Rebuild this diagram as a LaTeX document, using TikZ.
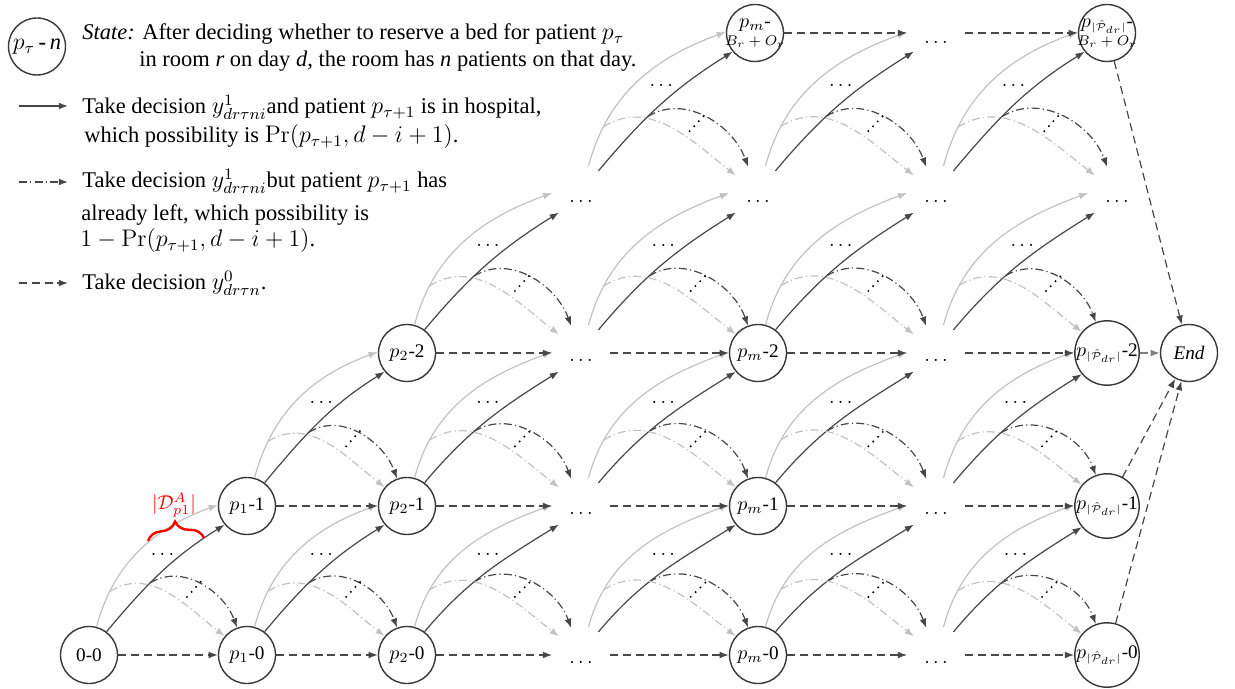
\documentclass[tikz,border=0pt]{standalone}
\usepackage[no-math]{fontspec}
\setmainfont{Liberation Serif}[Scale=0.96]
\usetikzlibrary{arrows.meta,calc,shapes.geometric,decorations.pathreplacing}
\definecolor{dk}{gray}{0.28}
\definecolor{lt}{gray}{0.76}
\definecolor{nodeb}{gray}{0.22}
\definecolor{midg}{gray}{0.5}
\tikzset{
  arrowtip/.style={-{Latex[length=4.6pt,width=3.4pt]}},
  darkarc/.style={draw=dk, line width=0.6pt, arrowtip},
  lightarc/.style={draw=lt, line width=0.6pt, arrowtip},
  dashdotpat/.style={dash pattern=on 4pt off 1.6pt on 0.6pt off 1.6pt},
  hdash/.style={draw=dk, line width=0.6pt, arrowtip, dash pattern=on 4pt off 2.4pt},
  dotline/.style={draw=black, line width=1.1pt, line cap=round, dash pattern=on 0pt off 3.4pt},
  st/.style={circle, draw=nodeb, line width=0.7pt, minimum size=28.5pt, inner sep=0pt},
  stbig/.style={st, inner sep=-3pt, align=center},
  ph/.style={circle, minimum size=28.5pt, inner sep=0pt},
  dotstext/.style={inner sep=0pt},
  legfont/.style={font=\fontsize{11.7}{14}\selectfont},
  legtext/.style={legfont, anchor=base west, inner sep=0pt},
}
\newcommand{\mytrans}[3]{%
  \draw[lightarc] (#1.75) to[out=75,in=200] node[coordinate,pos=0.2] (#1-g) {} (#2.178);
  \draw[darkarc] (#1.53) to[out=50,in=212] node[coordinate,pos=0.4] (#1-d) {} (#2.220);
  \draw[darkarc,dashdotpat] (#1-d) to[out=32,in=110] (#3.110);
  \draw[lightarc,dashdotpat] (#1-g) to[out=32,in=142] (#3.140);
  \coordinate (#1-l) at ($(#1)!0.62!(#3)+(#3)!0.39!(#2)-(#3)$);
  \coordinate (#1-u) at ($(#1)!0.715!(#3)+(#3)!0.5!(#2)-(#3)$);
  \draw[dotline] (#1-l) -- (#1-u);
  \node[dotstext] (#1-t) at ($(#1)!0.465!(#3)+(#3)!0.675!(#2)-(#3)$) {$\ldots$};
}
\newcommand{\phdots}[1]{\node[dotstext] (#1-t) at ($(#1)+(0,7.5)$) {$\ldots$};}
\newcommand{\Pset}{p_{\scriptscriptstyle|\hat{\mathcal{P}}_{dr}|}}
\begin{document}
\begin{tikzpicture}[x=0.5pt,y=-0.5pt]
\useasboundingbox (0,0) rectangle (1235,689);
% ---------- legend ----------
\node[st, legfont] (leg) at (37,46.5) {$p_\tau$\,\textbf{-}\,\textit{n}};
\node[legtext] (t1) at (82,40) {\textit{State:} After deciding whether to reserve a bed for patient $p_\tau$};
\node[legtext] (t2) at (139,67) {in room \textit{r} on day \textit{d}, the room has \textit{n} patients on that day.};
\coordinate (a1s) at (19,106); \coordinate (a1e) at (68,106);
\draw[darkarc] (a1s) -- (a1e);
\node[legtext] (t3) at (82,114) {Take decision $y^1_{dr\tau ni}$and patient $p_{\tau+1}$ is in hospital,};
\node[legtext] (t4) at (84,143) {which possibility is $\Pr(p_{\tau+1},d-i+1)$.};
\coordinate (a2s) at (19,182); \coordinate (a2e) at (68,182);
\draw[darkarc,dashdotpat] (a2s) -- (a2e);
\node[legtext] (t5) at (82,188) {Take decision $y^1_{dr\tau ni}$but patient $p_{\tau+1}$ has};
\node[legtext] (t6) at (81,221) {already left, which possibility is};
\node[legtext] (t7) at (80,247) {$1-\Pr(p_{\tau+1},d-i+1)$.};
\coordinate (a3s) at (19,283); \coordinate (a3e) at (68,283);
\draw[hdash] (a3s) -- (a3e);
\node[legtext] (t8) at (82,290) {Take decision $y^0_{dr\tau n}$.};
% ---------- nodes ----------
\node[st] (n00) at (89,655) {0-0};
\node[st] (p10) at (247,655) {$p_1$-0};
\node[st] (p11) at (247,506) {$p_1$-1};
\node[st] (p20) at (407,655) {$p_2$-0};
\node[st] (p21) at (407,506) {$p_2$-1};
\node[st] (p22) at (407,353) {$p_2$-2};
\node[ph] (d30) at (581,655) {};
\node[ph] (d31) at (581,506) {};
\node[ph] (d32) at (581,353) {};
\node[ph] (d33) at (581,194) {};
\node[st] (m0) at (758,655) {$p_m$-0};
\node[st] (m1) at (758,506) {$p_m$-1};
\node[st] (m2) at (758,353) {$p_m$-2};
\node[ph] (d43) at (758,194) {};
\node[stbig] (mB) at (755,33) {$p_m$-\\[-3pt]{\scriptsize $B_r+O_r$}};
\node[ph] (d50) at (936,655) {};
\node[ph] (d51) at (936,506) {};
\node[ph] (d52) at (936,353) {};
\node[ph] (d53) at (936,194) {};
\node[ph] (d54) at (936,33) {};
\node[st] (P0) at (1107,655) {$\Pset$-0};
\node[st] (P1) at (1107,506) {$\Pset$-1};
\node[st] (P2) at (1107,353) {$\Pset$-2};
\node[ph] (d63) at (1117,194) {};
\node[stbig] (PB) at (1107,33) {$\Pset$-\\[-3pt]{\scriptsize $B_r+O_r$}};
\node[st] (End) at (1189,353) {\textit{End}};
\foreach \d in {d30,d31,d32,d33,d43,d50,d51,d52,d53,d63}{\phdots{\d}}
\node[dotstext] (d54-t) at ($(d54)+(0,9)$) {$\ldots$};
% ---------- transitions ----------
\mytrans{n00}{p11}{p10}
\mytrans{p10}{p21}{p20}
\mytrans{p11}{p22}{p21}
\mytrans{p20}{d31}{d30}
\mytrans{p21}{d32}{d31}
\mytrans{p22}{d33}{d32}
\mytrans{d30}{m1}{m0}
\mytrans{d31}{m2}{m1}
\mytrans{d32}{d43}{m2}
\mytrans{d33}{mB}{d43}
\mytrans{m0}{d51}{d50}
\mytrans{m1}{d52}{d51}
\mytrans{m2}{d53}{d52}
\mytrans{d43}{d54}{d53}
\mytrans{d50}{P1}{P0}
\mytrans{d51}{P2}{P1}
\mytrans{d52}{d63}{P2}
\mytrans{d53}{PB}{d63}
% ---------- dashed horizontals ----------
\draw[hdash] (n00) -- (p10);
\draw[hdash] (p10) -- (p20);
\draw[hdash] (p20) -- (d30);
\draw[hdash] (d30) -- (m0);
\draw[hdash] (m0) -- (d50);
\draw[hdash] (d50) -- (P0);
\draw[hdash] (p11) -- (p21);
\draw[hdash] (p21) -- (d31);
\draw[hdash] (d31) -- (m1);
\draw[hdash] (m1) -- (d51);
\draw[hdash] (d51) -- (P1);
\draw[hdash] (p22) -- (d32);
\draw[hdash] (d32) -- (m2);
\draw[hdash] (m2) -- (d52);
\draw[hdash] (d52) -- (P2);
\draw[hdash] (mB) -- (d54);
\draw[hdash] (d54) -- (PB);
\draw[hdash, draw=midg, -{Latex[length=4.6pt,width=3.4pt,color=midg]}] (P2) -- (End);
\draw[hdash] (PB) -- (End);
\draw[hdash] (P1) -- (End);
\draw[hdash] (P0) -- (End);
% ---------- red brace ----------
\coordinate (brl) at (148,541); \coordinate (brr) at (204,538);
\draw[red, line width=1.2pt, decorate, decoration={brace,amplitude=9pt}] (brl) -- (brr);
\node[text=red, inner sep=0pt] (dlab) at (174,505) {$|\mathcal{D}^{A}_{p1}|$};
\end{tikzpicture}
\end{document}
